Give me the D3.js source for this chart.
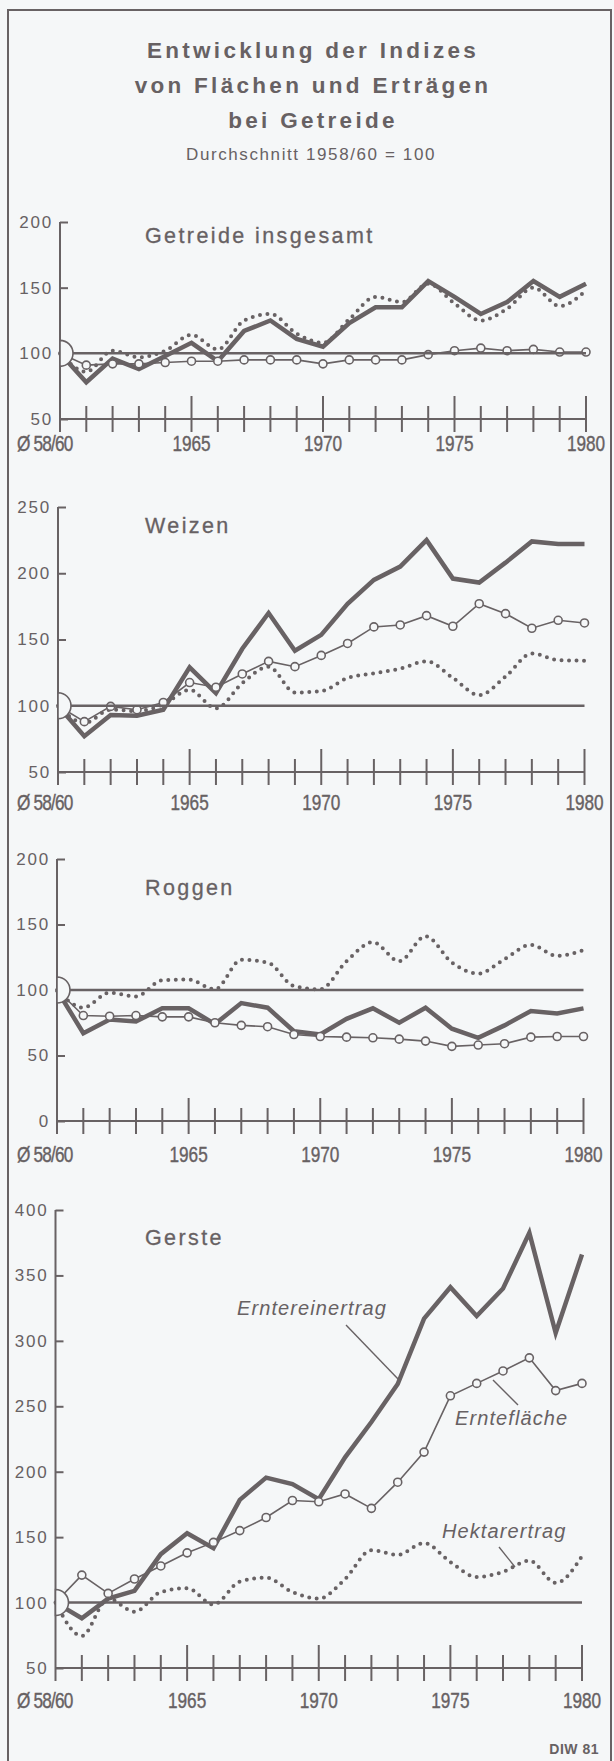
<!DOCTYPE html>
<html>
<head>
<meta charset="utf-8">
<script src="https://cdn.jsdelivr.net/npm/d3@7.9.0/dist/d3.min.js"></script>
<style>
  body { margin: 0; background: #f5f7f8; }
  svg { display: block; }
  text { fill: #676163; font-family: "Liberation Sans", Arial, sans-serif; }
</style>
</head>
<body>
<svg id="chart" width="614" height="1761"></svg>
<script>
// x index: 0 = Ø 58/60, 1..20 = 1961..1980
const xTickValues = [0, 5, 10, 15, 20];
const xTickLabels = ["Ø 58/60", "1965", "1970", "1975", "1980"];
const panelNames = ["Getreide insgesamt", "Weizen", "Roggen", "Gerste"];

// Getreide insgesamt
const getreideErtrag = [100, 78, 96, 88, 98, 108, 94, 117, 125, 111, 105, 123, 135, 135, 155, 143, 130, 139, 155, 143, 153];
const getreideFlaeche = [100, 91, 92, 92, 93, 94, 94, 95, 95, 95, 92, 95, 95, 95, 99, 102, 104, 102, 103, 101, 101];
const getreideHektar = [100, 86, 102, 97, 102, 114, 103, 125, 130, 115, 108, 126, 143, 139, 153, 138, 125, 134, 150, 136, 148];

// Weizen
const weizenErtrag = [100, 77, 93, 92.5, 97, 129, 109.5, 143, 170, 141.5, 153.5, 177, 195, 205, 225, 196, 193, 208, 224, 222, 222];
const weizenFlaeche = [100, 88, 99.5, 97, 102.5, 117.5, 114, 124, 133.5, 129.5, 138, 147, 159.5, 161, 168, 160, 177, 169.5, 158.5, 164.5, 162.5];
const weizenHektar = [100, 87, 97, 96, 101, 112, 98, 117, 129.5, 110, 111, 121, 124.5, 128, 133.5, 121, 108, 122, 139.5, 134.5, 134];

// Roggen
const roggenErtrag = [100, 67, 77.5, 76, 86, 86, 74, 90, 86.5, 68.5, 66, 78, 86, 75, 86.5, 70.5, 63.5, 73, 84, 82, 86];
const roggenFlaeche = [100, 80.5, 80, 80.5, 79.5, 79.5, 75, 73, 72, 66, 64.5, 64, 63.5, 62.5, 61, 57, 58, 59, 64, 64.5, 64.5];
const roggenHektar = [100, 86.5, 98, 95, 107.5, 108, 100.5, 123, 121, 103, 100.5, 122, 136.5, 122, 141, 121, 112.5, 123.5, 134.5, 126, 130.5];

// Gerste
const gersteErtrag = [100, 88, 103, 109, 137, 153, 141.5, 178.5, 195.5, 190.5, 179, 211, 238, 267, 317, 341, 319, 340, 382.5, 306, 366];
const gersteFlaeche = [100, 121, 107, 118, 128, 138, 146, 155, 165, 178, 177, 183, 172, 192, 215, 258, 267.5, 277, 287, 262, 267.5];
const gersteHektar = [100, 74.5, 103, 93, 108, 111, 98.5, 116, 119, 108, 103, 118, 140, 136.5, 145.5, 131, 119.5, 123.5, 132, 115, 135.5];

const ink = "#686264";
const bg = "#f5f7f8";

// layout per panel (pixel positions, it is a bit tilted)
const panels = [
  { name: panelNames[0], ertrag: getreideErtrag, flaeche: getreideFlaeche, hektar: getreideHektar,
    domain: [50, 200], ticks: [50, 100, 150, 200], top: 222, bottom: 419, x0: 60, x1: 586, titleY: 243, labelY: 451 },
  { name: panelNames[1], ertrag: weizenErtrag, flaeche: weizenFlaeche, hektar: weizenHektar,
    domain: [50, 250], ticks: [50, 100, 150, 200, 250], top: 507, bottom: 772, x0: 58, x1: 584.5, titleY: 533, labelY: 810 },
  { name: panelNames[2], ertrag: roggenErtrag, flaeche: roggenFlaeche, hektar: roggenHektar,
    domain: [0, 200], ticks: [0, 50, 100, 150, 200], top: 859, bottom: 1121, x0: 57, x1: 583.5, titleY: 895, labelY: 1162 },
  { name: panelNames[3], ertrag: gersteErtrag, flaeche: gersteFlaeche, hektar: gersteHektar,
    domain: [50, 400], ticks: [50, 100, 150, 200, 250, 300, 350, 400], top: 1210, bottom: 1668, x0: 55.5, x1: 582, titleY: 1245, labelY: 1708 }
];

const svg = d3.select("#chart");

svg.append("rect").attr("width", 614).attr("height", 1761).attr("fill", bg);

// frame
svg.append("path")
  .attr("d", "M8,1761 L8,10 L611,10 L611,1761")
  .attr("fill", "none").attr("stroke", ink).attr("stroke-width", 2);

// heading
const titleLines = ["Entwicklung der Indizes", "von Flächen und Erträgen", "bei Getreide"];
titleLines.forEach((t, i) => {
  svg.append("text")
    .attr("x", 313).attr("y", 58 + i * 35)
    .attr("text-anchor", "middle")
    .attr("font-size", 22.5).attr("font-weight", "bold")
    .attr("letter-spacing", 3.3)
    .text(t);
});
svg.append("text")
  .attr("x", 311).attr("y", 160)
  .attr("text-anchor", "middle")
  .attr("font-size", 17)
  .attr("letter-spacing", 1.6)
  .text("Durchschnitt 1958/60 = 100");

panels.forEach((p) => {
  let x = d3.scaleLinear().domain([0, 20]).range([p.x0, p.x1]);
  let y = d3.scaleLinear().domain(p.domain).range([p.bottom, p.top]);
  let g = svg.append("g");

  // y axis, ticks pointing right
  let yAxis = d3.axisLeft(y).tickValues(p.ticks).tickSizeInner(-8).tickSizeOuter(0).tickPadding(7);
  let ya = g.append("g").attr("transform", `translate(${p.x0},0)`).call(yAxis);
  ya.select(".domain").remove();
  ya.selectAll("line").attr("stroke", ink).attr("stroke-width", 2);
  ya.selectAll("text")
    .attr("font-family", "Liberation Sans, Arial, sans-serif")
    .attr("font-size", 17).attr("letter-spacing", 1.8)
    .attr("fill", ink);
  g.append("line")
    .attr("x1", p.x0).attr("x2", p.x0)
    .attr("y1", y(p.domain[1])).attr("y2", y(p.domain[0]) + 13)
    .attr("stroke", ink).attr("stroke-width", 2);

  // x axis with ticks crossing the line
  g.append("line")
    .attr("x1", p.x0).attr("x2", x(20))
    .attr("y1", y(p.domain[0])).attr("y2", y(p.domain[0]))
    .attr("stroke", ink).attr("stroke-width", 2);
  g.selectAll(".xt").data(d3.range(1, 21)).join("line")
    .attr("x1", (d) => x(d)).attr("x2", (d) => x(d))
    .attr("y1", (d) => y(p.domain[0]) - (d % 5 === 0 ? 23 : 13))
    .attr("y2", y(p.domain[0]) + 13)
    .attr("stroke", ink).attr("stroke-width", 2);
  xTickValues.forEach((v, i) => {
    g.append("text")
      .attr("transform", `translate(${i === 0 ? 17 : x(v)},${p.labelY}) scale(0.8,1)`)
      .attr("text-anchor", i === 0 ? "start" : "middle")
      .attr("font-size", 21.5)
      .attr("stroke", ink).attr("stroke-width", 0.4)
      .attr("letter-spacing", i === 0 ? -1 : 0)
      .text(xTickLabels[i]);
  });

  // panel title
  g.append("text")
    .attr("x", 145).attr("y", p.titleY)
    .attr("font-size", 21.5).attr("letter-spacing", 2.4)
    .attr("stroke", ink).attr("stroke-width", 0.3)
    .text(p.name);

  let idx = d3.range(21);

  // Hektarertrag, dotted
  let dotLine = d3.line().x((i) => x(i)).y((i) => y(p.hektar[i])).curve(d3.curveMonotoneX);
  g.append("path").attr("d", dotLine(idx))
    .attr("fill", "none").attr("stroke", ink)
    .attr("stroke-width", 4).attr("stroke-linecap", "round")
    .attr("stroke-dasharray", "0,7.5");

  // Erntereinertrag, thick
  let solidLine = d3.line().x((i) => x(i)).y((i) => y(p.ertrag[i]));
  g.append("path").attr("d", solidLine(idx))
    .attr("fill", "none").attr("stroke", ink)
    .attr("stroke-width", 4.5).attr("stroke-linejoin", "miter");

  // Erntefläche, thin with open circles
  let thinLine = d3.line().x((i) => x(i)).y((i) => y(p.flaeche[i]));
  g.append("path").attr("d", thinLine(idx))
    .attr("fill", "none").attr("stroke", ink).attr("stroke-width", 1.6);
  g.selectAll(".pt").data(idx.slice(1)).join("circle")
    .attr("cx", (i) => x(i)).attr("cy", (i) => y(p.flaeche[i]))
    .attr("r", 4).attr("fill", bg).attr("stroke", ink).attr("stroke-width", 1.6);

  // base line 100 and the half circle at the start
  let r = 13;
  g.append("line")
    .attr("x1", p.x0 + r).attr("x2", x(20))
    .attr("y1", y(100)).attr("y2", y(100))
    .attr("stroke", ink).attr("stroke-width", 2.5);
  g.append("path")
    .attr("d", `M${p.x0},${y(100) - r} A${r},${r} 0 0 1 ${p.x0},${y(100) + r} Z`)
    .attr("fill", bg).attr("stroke", ink).attr("stroke-width", 1.6);

  // labels only in the Gerste panel
  if (p.name === "Gerste") {
    let notes = [
      { t: "Erntereinertrag", tx: 237, ty: 1315, l: [346, 1325, 399, 1380] },
      { t: "Erntefläche", tx: 455, ty: 1425, l: [493, 1380, 518, 1405] },
      { t: "Hektarertrag", tx: 442, ty: 1538, l: [499, 1547, 515, 1567] }
    ];
    notes.forEach((n) => {
      g.append("text").attr("x", n.tx).attr("y", n.ty)
        .attr("font-size", 20).attr("font-style", "italic")
        .attr("letter-spacing", 1.1)
        .text(n.t);
      g.append("line")
        .attr("x1", n.l[0]).attr("y1", n.l[1]).attr("x2", n.l[2]).attr("y2", n.l[3])
        .attr("stroke", ink).attr("stroke-width", 1.4);
    });
  }
});

svg.append("text")
  .attr("x", 599).attr("y", 1754)
  .attr("text-anchor", "end")
  .attr("font-size", 14).attr("font-weight", "bold")
  .attr("letter-spacing", 0.5)
  .text("DIW 81");
</script>
</body>
</html>
